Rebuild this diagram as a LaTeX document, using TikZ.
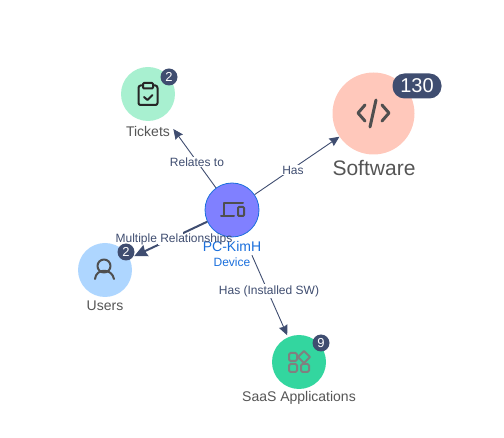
\documentclass[tikz,border=0pt]{standalone}
\usepackage{fontspec}
\setmainfont{Liberation Sans}
\usetikzlibrary{arrows.meta}
\definecolor{edgeblue}{HTML}{3F4D70}
\definecolor{textgray}{HTML}{555555}
\definecolor{linkblue}{HTML}{1A6FDC}
\definecolor{icongray}{HTML}{4F4F4F}
\definecolor{devicefill}{HTML}{8080FF}
\definecolor{ticketsfill}{HTML}{A8F0D0}
\definecolor{softwarefill}{HTML}{FFC8BB}
\definecolor{usersfill}{HTML}{AED6FF}
\definecolor{saasfill}{HTML}{33D69F}
\tikzset{
  kindnode/.style={circle, inner sep=0pt, minimum size=54pt},
  edgelabel/.style={fill=white, inner sep=1pt, text=edgeblue, font=\fontsize{12}{12}\selectfont},
  kindlabel/.style={text=textgray, inner sep=0pt, font=\fontsize{14}{14}\selectfont},
  badge/.style={circle, fill=edgeblue, text=white, inner sep=0pt, minimum size=17pt, font=\fontsize{13}{13}\selectfont},
  link/.style={edgeblue, line width=0.9pt, -{Stealth[length=10pt,width=9pt,inset=1pt]}},
  iconline/.style={icongray, line width=2pt, line cap=round, line join=round},
}
\begin{document}
\begin{tikzpicture}[x=1pt,y=-1pt]
\useasboundingbox (0,0) rectangle (504,438);
% Circles
\node[kindnode, fill=devicefill, draw=linkblue, line width=0.8pt] (device) at (232,210) {};
\node[kindnode, fill=ticketsfill] (tickets) at (148,94) {};
\node[kindnode, fill=softwarefill, minimum size=82pt] (software) at (373.5,113.5) {};
\node[kindnode, fill=usersfill] (users) at (105,270) {};
\node[kindnode, fill=saasfill] (saas) at (299,362) {};
% Connectors
\draw[link, shorten >=16pt] (device) -- (tickets);
\draw[link] (device) -- (software);
\draw[link, line width=2pt, -{Stealth[length=13pt,width=12pt,inset=1pt]}, shorten >=5pt] (device) -- (users);
\draw[link, shorten <=22pt, shorten >=2pt] (device) -- (saas);
% Edge labels
\node[edgelabel] (relates) at (197,162) {Relates to};
\node[edgelabel] (has) at (293,170) {Has};
\node[edgelabel] (installed) at (269,291) {Has (Installed SW)};
\fill[white] (158,232) rectangle (183,245);
% Tickets icon
\draw[iconline, black!85] (143,85.5) -- (140.5,85.5) to[out=180,in=90] (138.5,88) -- (138.5,103) to[out=-90,in=180] (140.5,105) -- (155.5,105) to[out=0,in=-90] (157.5,103) -- (157.5,88) to[out=90,in=0] (155.5,85.5) -- (153,85.5);
\draw[iconline, black!85, rounded corners=1pt] (143,83) rectangle (153,88.5);
\draw[iconline, black!85] (144,97) -- (147.5,100) -- (152.5,95);
% Software icon
\draw[iconline, line width=3pt] (365,105) -- (358,113) -- (365,121);
\draw[iconline, line width=3pt] (382,105) -- (389,113) -- (382,121);
\draw[iconline, line width=3pt] (376,100) -- (370,127);
% Users icon
\draw[iconline] (104,266) circle [radius=6.5pt];
\draw[iconline] (95,279) .. controls (96,268) and (112,268) .. (114,279);
% Device icon
\draw[iconline] (224,215.5) -- (224,203) -- (243,203);
\draw[iconline] (221,216) -- (234,216);
\draw[iconline, rounded corners=1pt] (238,207) rectangle (244,216);
% SaaS icon
\draw[iconline, gray, rounded corners=1.5pt] (289,353) rectangle (297,361);
\draw[iconline, gray, rounded corners=1.5pt] (289,364) rectangle (297,372);
\draw[iconline, gray, rounded corners=1.5pt] (301,364) rectangle (309,372);
\draw[iconline, gray] (304,351) -- (310,357) -- (304,363) -- (298,357) -- cycle;
% Node labels
\node[kindlabel] (ticketsname) at (148,131) {Tickets};
\node[kindlabel, font=\fontsize{21}{21}\selectfont] (softwarename) at (374,168) {Software};
\node[kindlabel] (usersname) at (105,306) {Users};
\node[kindlabel] (saasname) at (299,398) {SaaS Applications};
\node[kindlabel, text=linkblue] (devicename) at (232,246) {PC-KimH};
\node[kindlabel, text=linkblue, font=\fontsize{12}{12}\selectfont] (devicekind) at (232,262) {Device};
\node[edgelabel, fill=none] (multiple) at (174,239) {Multiple Relationships};
% Badges
\node[badge] (ticketsbadge) at (169,77) {2};
\node[badge] (usersbadge) at (126,252) {2};
\node[badge] (saasbadge) at (321,343) {9};
\node[badge, rectangle, rounded corners=12pt, minimum width=49pt, minimum height=25pt, font=\fontsize{20}{20}\selectfont] (softwarebadge) at (417,86) {130};
\end{tikzpicture}
\end{document}
